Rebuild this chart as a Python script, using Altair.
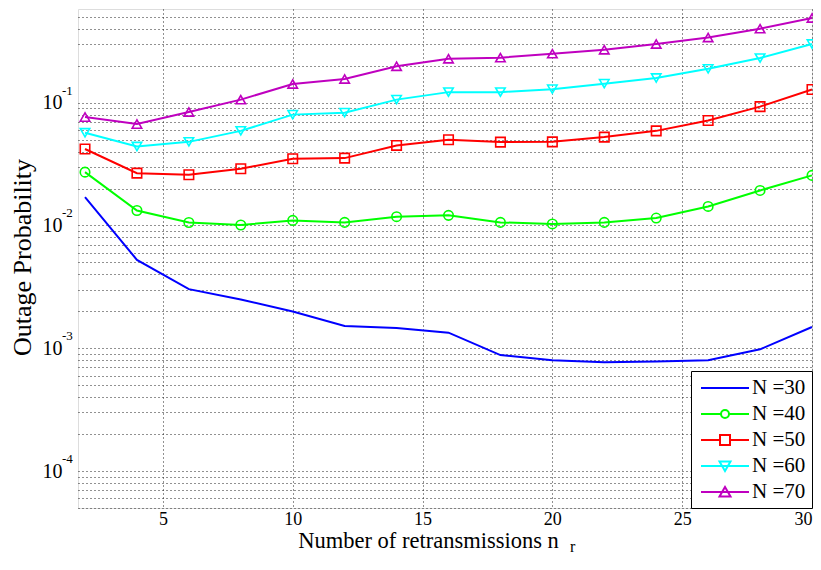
import altair as alt
import pandas as pd

x_vals = [2, 4, 6, 8, 10, 12, 14, 16, 18, 20, 22, 24, 26, 28, 30]
n30 = [0.0170, 0.00525, 0.00303, 0.0025, 0.00199, 0.00152, 0.00146, 0.00134,
       0.00088, 0.00080, 0.00077, 0.00078, 0.00080, 0.00098, 0.00149]
n40 = [0.0272, 0.01325, 0.01057, 0.0101, 0.0110, 0.0106, 0.0118, 0.0121,
       0.0106, 0.0103, 0.0106, 0.0115, 0.0143, 0.0193, 0.0256]
n50 = [0.0420, 0.0267, 0.0259, 0.0290, 0.0350, 0.0354, 0.0449, 0.0500,
       0.0478, 0.0480, 0.0525, 0.0590, 0.0717, 0.0930, 0.1280]
n60 = [0.0570, 0.0440, 0.0480, 0.0590, 0.0800, 0.0830, 0.1060, 0.1220,
       0.1220, 0.1290, 0.1430, 0.1590, 0.1890, 0.2310, 0.3010]
n70 = [0.0764, 0.0670, 0.0840, 0.1060, 0.1420, 0.1560, 0.1980, 0.2280,
       0.2330, 0.2510, 0.2700, 0.3010, 0.3400, 0.4010, 0.4900]

series_names = ["N =30", "N =40", "N =50", "N =60", "N =70"]
series_colors = ["#0000FF", "#00FF00", "#FF0000", "#00FFFF", "#BF00BF"]
marker_shapes = ["M0,0", "circle", "square", "triangle-down", "triangle-up"]
legend_shapes = [
    "M-2.4,0H2.4",
    "M-2.4,0H-0.4M0.4,0H2.4M-0.4,0A0.4,0.4 0 1,0 0.4,0A0.4,0.4 0 1,0 -0.4,0Z",
    "M-2.4,0H-0.5M0.5,0H2.4M-0.5,-0.5H0.5V0.5H-0.5Z",
    "M-2.4,0H2.4M-0.55,-0.45L0.55,-0.45L0,0.5Z",
    "M-2.4,0H2.4M-0.55,0.45L0.55,0.45L0,-0.5Z",
]
exp_vals = [1e-4, 1e-3, 1e-2, 1e-1]
exp_text = ["-4", "-3", "-2", "-1"]
x_ticks = [5, 10, 15, 20, 25, 30]

rows = []
for name, vals in zip(series_names, [n30, n40, n50, n60, n70]):
    for xv, v in zip(x_vals, vals):
        rows.append({"x": xv, "v": v, "series": name})
df = pd.DataFrame(rows)

grid_vals = []
for k in range(-5, 0):
    for m in range(1, 10):
        val = m * 10 ** k
        if 5e-5 <= val <= 0.58:
            grid_vals.append(round(val, 8))

FONT = "Liberation Serif"
xscale = alt.Scale(domain=[1.73, 30], nice=False, zero=False)
yscale = alt.Scale(type="log", domain=[5e-5, 0.58], nice=False)

x_axis = alt.Axis(values=x_ticks, grid=True, gridDash=[1, 3], gridColor="#222",
                  ticks=False, domain=False, labelFont=FONT, labelFontSize=18,
                  labelColor="black", labelPadding=2,
                  title="Number of retransmissions n", titleFont=FONT,
                  titleFontSize=22.5, titleFontWeight="normal", titleColor="black",
                  titleX=350, titleY=39, titleAlign="center",
                  titleBaseline="alphabetic")
y_axis = alt.Axis(values=grid_vals, grid=True, gridDash=[1, 3], gridColor="#222",
                  ticks=False, domain=False, labelFont=FONT, labelFontSize=20,
                  labelColor="black", labelPadding=16,
                  labelExpr="abs(log(datum.value)/LN10 - round(log(datum.value)/LN10)) < 0.000001 ? '10' : ''",
                  title="Outage Probability", titleFont=FONT, titleFontSize=26,
                  titleFontWeight="normal", titleColor="black", titleAngle=270,
                  titleX=-56, titleY=248, titleAlign="center",
                  titleBaseline="middle")

X = alt.X("x:Q", scale=xscale, axis=x_axis)
Y = alt.Y("v:Q", scale=yscale, axis=y_axis)

legend = alt.Legend(orient="bottom-right", offset=0, title=None,
                    labelFont=FONT, labelFontSize=21, labelColor="black",
                    labelOffset=16, symbolSize=400, symbolOffset=17,
                    symbolStrokeWidth=2, symbolOpacity=1, symbolFillColor="transparent",
                    strokeColor="black", fillColor="white",
                    padding=6, rowPadding=5, cornerRadius=0)

cscale = alt.Scale(domain=series_names, range=series_colors)

lines = alt.Chart(df).mark_line(strokeWidth=2).encode(
    x=X, y=Y,
    color=alt.Color("series:N", scale=cscale, legend=None),
)

points = alt.Chart(df).transform_filter(alt.datum.series != "N =30").mark_point(
    filled=False, strokeWidth=1.6, opacity=1
).encode(
    x=X, y=Y,
    color=alt.Color("series:N", scale=cscale, legend=None),
    shape=alt.Shape("series:N", scale=alt.Scale(domain=series_names, range=marker_shapes), legend=None),
    size=alt.value(90),
)

legend_layer = alt.Chart(df).mark_point(filled=False, opacity=0).encode(
    x=X, y=Y,
    color=alt.Color("series:N", scale=cscale, legend=legend),
    shape=alt.Shape("series:N", scale=alt.Scale(domain=series_names, range=legend_shapes), legend=legend),
)

sup_df = pd.DataFrame({"v": exp_vals, "t": exp_text})
sups = alt.Chart(sup_df).mark_text(align="left", baseline="middle", dy=-12,
                                    font=FONT, fontSize=13, color="black").encode(
    x=alt.value(-16), y=alt.Y("v:Q", scale=yscale), text="t:N")

sub = alt.Chart(pd.DataFrame({"t": ["r"]})).mark_text(
    align="left", baseline="alphabetic", font=FONT, fontSize=16, color="black"
).encode(x=alt.value(492), y=alt.value(543), text="t:N")

chart = alt.layer(lines, points, legend_layer, sups, sub).resolve_scale(
    shape="independent", color="independent"
).properties(
    width=734, height=499,
    autosize=alt.AutoSizeParams(type="none"),
    padding={"left": 70, "top": 1, "right": 1, "bottom": 54},
).configure_view(stroke="black", strokeWidth=1).configure(background="white")

chart.save("out.html", embed_options={"renderer": "svg", "actions": False})
